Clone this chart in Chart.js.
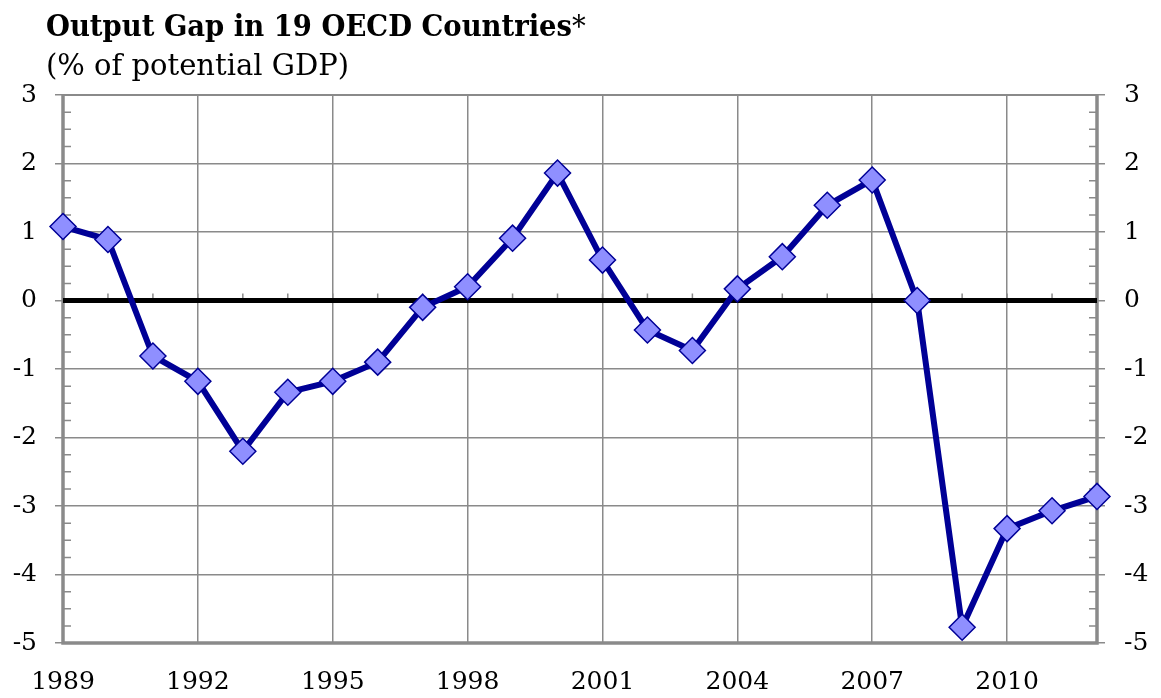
<!DOCTYPE html>
<html>
<head>
<meta charset="utf-8">
<script src="https://cdn.jsdelivr.net/npm/chart.js@4/dist/chart.umd.min.js"></script>
<style>
  body { margin: 0; background: #fff; }
  #wrap { position: relative; width: 1161px; height: 698px; }
  .title { position: absolute; left: 46px; top: 9px; font: bold 30.5px/32px "DejaVu Serif Condensed", "DejaVu Serif", serif; color: #000; white-space: nowrap; }
  .title span { font-weight: normal; }
  .sub { position: absolute; left: 46px; top: 51px; font: 29px/29px "DejaVu Serif", serif; color: #000; white-space: nowrap; }
  canvas { position: absolute; left: 0; top: 0; }
</style>
</head>
<body>
<div id="wrap">
  <canvas id="gap" width="1161" height="698"></canvas>
  <div class="title">Output Gap in 19 OECD Countries<span>*</span></div>
  <div class="sub">(% of potential GDP)</div>
</div>
<script>
const years = [1989, 1990, 1991, 1992, 1993, 1994, 1995, 1996, 1997, 1998, 1999, 2000,
  2001, 2002, 2003, 2004, 2005, 2006, 2007, 2008, 2009, 2010, 2011, 2012];
const outputGap = [1.08, 0.89, -0.81, -1.18, -2.20, -1.34, -1.18, -0.90, -0.10, 0.20, 0.91, 1.86,
  0.59, -0.43, -0.73, 0.17, 0.64, 1.39, 1.76, 0.00, -4.77, -3.33, -3.07, -2.86];
const yMin = -5;
const yMax = 3;

const gridGray = '#8a8a8a';
const tickFont = { family: 'DejaVu Serif', size: 25 };

// frame, zero line and the little minor ticks
const framePlugin = {
  id: 'frame',
  beforeDatasetsDraw(chart) {
    const { ctx, chartArea: a, scales } = chart;
    const y = scales.y;
    const x = scales.x;
    ctx.save();
    ctx.strokeStyle = gridGray;
    ctx.lineWidth = 1.5;
    for (let v = yMin; v < yMax; v += 0.25) {
      if (Number.isInteger(v)) continue;
      const py = y.getPixelForValue(v);
      ctx.beginPath();
      ctx.moveTo(a.left, py); ctx.lineTo(a.left + 8, py);
      ctx.moveTo(a.right - 8, py); ctx.lineTo(a.right, py);
      ctx.stroke();
    }
    const zy = y.getPixelForValue(0);
    years.forEach((yr, i) => {
      const px = x.getPixelForValue(i);
      ctx.beginPath();
      ctx.moveTo(px, zy - 7); ctx.lineTo(px, zy);
      ctx.stroke();
    });
    ctx.lineWidth = 3.5;
    ctx.beginPath();
    ctx.moveTo(a.left, a.top); ctx.lineTo(a.left, a.bottom); ctx.lineTo(a.right, a.bottom); ctx.lineTo(a.right, a.top);
    ctx.stroke();
    ctx.lineWidth = 2;
    ctx.beginPath();
    ctx.moveTo(a.left, a.top); ctx.lineTo(a.right, a.top);
    ctx.stroke();
    ctx.strokeStyle = '#000';
    ctx.lineWidth = 5;
    ctx.beginPath();
    ctx.moveTo(a.left, zy); ctx.lineTo(a.right, zy);
    ctx.stroke();
    ctx.restore();
  }
};

new Chart(document.getElementById('gap'), {
  type: 'line',
  data: {
    labels: years,
    datasets: [{
      label: 'Output gap',
      data: outputGap,
      borderColor: '#000096',
      borderWidth: 6,
      pointStyle: 'rectRot',
      pointRadius: 13,
      pointBackgroundColor: '#8f8fff',
      pointBorderColor: '#000096',
      pointBorderWidth: 1.5,
      tension: 0,
      clip: false
    }]
  },
  options: {
    responsive: false,
    animation: false,
    layout: { padding: { top: 95, left: 0, right: 0, bottom: 0 } },
    plugins: { legend: { display: false }, tooltip: { enabled: false } },
    scales: {
      x: {
        type: 'category',
        offset: false,
        border: { display: false },
        grid: {
          color: (c) => (c.index % 3 === 0 ? gridGray : 'transparent'),
          lineWidth: 1.5,
          drawTicks: false
        },
        ticks: {
          autoSkip: false,
          maxRotation: 0,
          padding: 24,
          color: '#000',
          font: tickFont,
          callback: (v, i) => (i % 3 === 0 ? years[i] : '')
        },
        afterFit: (s) => { s.height = 55; }
      },
      y: {
        position: 'left',
        min: yMin,
        max: yMax,
        border: { display: false },
        grid: { color: gridGray, lineWidth: 1.5, tickLength: 8 },
        ticks: { stepSize: 1, padding: 18, color: '#000', font: tickFont },
        afterFit: (s) => { s.width = 63; }
      },
      y2: {
        position: 'right',
        min: yMin,
        max: yMax,
        border: { display: false },
        grid: { drawOnChartArea: false, color: gridGray, lineWidth: 1.5, tickLength: 8 },
        ticks: { stepSize: 1, padding: 19, color: '#000', font: tickFont },
        afterFit: (s) => { s.width = 64; }
      }
    }
  },
  plugins: [framePlugin]
});
</script>
</body>
</html>
